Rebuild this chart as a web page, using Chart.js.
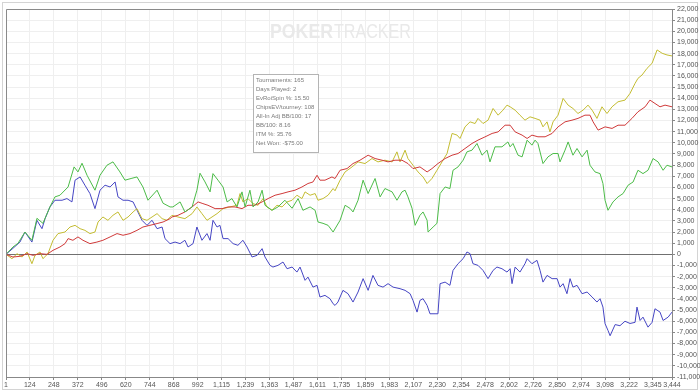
<!DOCTYPE html>
<html lang="en">
<head>
<meta charset="UTF-8" />
<title>PokerTracker graph</title>
<script src="https://cdn.jsdelivr.net/npm/chart.js"></script>
<style>
  html, body { margin: 0; padding: 0; background: #fff; }
  #wrap { width: 700px; height: 392px; }
</style>
</head>
<body>
<div id="wrap"><canvas id="graph" width="700" height="392"></canvas></div>
<script>
  // hand numbers shown under the x axis
  const xTicks = [1, 124, 248, 372, 496, 620, 744, 868, 992, 1115, 1239, 1363, 1487, 1611, 1735,
    1859, 1983, 2107, 2230, 2354, 2478, 2602, 2726, 2850, 2974, 3098, 3222, 3345, 3444];

  // [hand, value]
  const greenPoints = [[1,0],[37,660],[63,990],[99,2000],[135,1260],[161,3230],[192,2780],[228,4250],[254,5150],[280,5300],[322,6040],[353,7840],[373,7390],[394,8170],[420,7090],[461,5750],[487,7090],[523,7990],[554,8290],[590,7390],[616,6650],[652,6820],[678,6940],[709,6040],[735,4850],[782,5750],[813,4580],[849,4250],[864,4250],[901,4700],[926,3800],[963,4250],[988,5750],[1004,7270],[1030,6490],[1056,5600],[1071,7240],[1097,6650],[1123,6040],[1144,4700],[1169,5000],[1195,4250],[1221,5600],[1237,4250],[1262,5750],[1278,4250],[1304,4700],[1325,5750],[1340,4400],[1376,3950],[1407,4250],[1443,4850],[1480,4130],[1511,5000],[1536,3950],[1573,4250],[1599,3950],[1614,2900],[1640,2780],[1666,2600],[1692,2000],[1728,3050],[1754,4400],[1779,4130],[1795,3800],[1821,4850],[1847,6650],[1873,5450],[1909,6800],[1935,5150],[1960,5900],[1997,5600],[2022,4850],[2048,5600],[2064,5750],[2079,5150],[2100,4130],[2116,2600],[2141,3500],[2157,3800],[2178,3050],[2183,2000],[2209,2450],[2229,2780],[2245,5450],[2271,6040],[2296,5900],[2312,7540],[2338,7840],[2364,8440],[2384,9190],[2410,9340],[2436,9940],[2462,8890],[2488,9340],[2503,8290],[2529,9640],[2565,9640],[2596,10080],[2607,9640],[2622,9940],[2648,8890],[2669,8740],[2695,10240],[2720,9790],[2736,10240],[2751,9940],[2777,8140],[2803,8740],[2829,9040],[2855,9040],[2865,8290],[2891,9340],[2907,10080],[2932,8890],[2953,9490],[2979,8740],[3005,9340],[3020,7990],[3046,7390],[3072,7240],[3087,6350],[3098,4850],[3113,3950],[3139,4700],[3165,5150],[3191,5450],[3217,6200],[3243,6490],[3268,7540],[3294,7240],[3320,7540],[3346,8590],[3372,8290],[3398,7540],[3418,7990],[3444,7840]];

  const bluePoints = [[1,0],[37,540],[73,1100],[99,2000],[135,1100],[161,3050],[187,2300],[203,3200],[228,4250],[254,4850],[291,4850],[316,5000],[342,4700],[358,6650],[384,6940],[409,6200],[435,5450],[461,4100],[487,5750],[513,6200],[539,6040],[565,6490],[580,5150],[606,4850],[632,4850],[658,4700],[683,3800],[704,3050],[730,2600],[756,3050],[782,2300],[808,2450],[823,1410],[849,960],[875,1100],[901,960],[926,1260],[942,660],[968,960],[988,2450],[1014,1260],[1040,1860],[1056,1260],[1071,3050],[1092,2450],[1107,2600],[1123,1410],[1149,1410],[1175,960],[1200,810],[1226,1260],[1247,660],[1273,-240],[1299,-90],[1325,510],[1340,-240],[1366,-990],[1381,-1140],[1407,-990],[1433,-690],[1454,-1290],[1480,-1140],[1505,-1590],[1521,-1140],[1547,-2330],[1562,-2040],[1588,-2940],[1609,-2780],[1624,-3830],[1650,-3680],[1676,-3980],[1692,-4430],[1702,-4580],[1717,-4280],[1743,-3230],[1769,-3530],[1795,-4280],[1821,-3380],[1847,-2180],[1873,-3230],[1898,-1890],[1924,-2780],[1950,-2940],[1976,-2630],[2002,-2940],[2038,-3080],[2064,-3230],[2090,-3530],[2105,-4130],[2126,-5180],[2141,-4130],[2157,-3980],[2178,-4580],[2193,-5330],[2219,-5330],[2234,-5330],[2245,-2630],[2271,-2490],[2296,-2780],[2312,-1440],[2338,-840],[2364,-390],[2384,210],[2400,60],[2415,-840],[2441,-990],[2467,-1440],[2493,-2180],[2519,-1440],[2539,-1140],[2565,-1290],[2591,-1590],[2607,-1290],[2617,-2630],[2633,-1140],[2658,-1590],[2684,-840],[2695,-390],[2720,-840],[2746,-540],[2762,-1440],[2777,-2490],[2798,-1890],[2824,-2180],[2850,-2180],[2865,-2940],[2881,-2630],[2901,-3530],[2917,-2180],[2932,-2940],[2953,-2780],[2979,-3530],[3005,-3380],[3031,-3830],[3056,-4280],[3072,-3980],[3087,-4730],[3098,-6220],[3113,-6820],[3124,-7300],[3150,-6300],[3175,-6400],[3201,-6000],[3227,-6200],[3253,-6100],[3263,-4730],[3279,-5930],[3294,-5630],[3320,-6530],[3341,-6100],[3356,-4880],[3382,-5180],[3398,-5930],[3424,-5630],[3444,-5180]];

  const redPoints = [[1,0],[37,-240],[73,-180],[110,60],[141,-90],[177,60],[213,0],[244,360],[280,660],[306,960],[322,1410],[347,1260],[373,1560],[399,1260],[435,960],[471,1100],[502,1260],[539,1560],[575,1860],[606,1710],[642,1860],[678,2150],[709,2450],[745,2600],[782,2760],[813,2900],[849,3200],[859,3350],[890,3500],[926,3800],[963,4250],[994,4700],[1019,4550],[1045,4400],[1082,4100],[1118,4100],[1149,4250],[1185,4250],[1221,4100],[1252,4400],[1288,4400],[1325,4700],[1356,5000],[1392,5300],[1428,5450],[1459,5600],[1495,5750],[1531,6040],[1562,6350],[1588,6490],[1609,7090],[1624,6650],[1650,6650],[1686,6940],[1702,6800],[1728,7540],[1764,7690],[1795,8140],[1831,8440],[1873,8890],[1909,8590],[1945,8440],[1976,8290],[2012,8440],[2048,8440],[2079,8140],[2105,7690],[2141,7840],[2178,7390],[2203,7690],[2234,8140],[2271,8590],[2307,8890],[2338,9040],[2374,9490],[2410,9940],[2441,10240],[2477,10530],[2514,10840],[2545,10980],[2581,11580],[2607,11580],[2633,10980],[2669,10690],[2695,10390],[2720,10690],[2751,10540],[2788,10540],[2824,10840],[2855,11430],[2891,11880],[2927,12030],[2958,12190],[2994,12480],[3020,12480],[3036,11880],[3062,11140],[3098,11430],[3134,11290],[3165,11580],[3201,11580],[3237,12190],[3268,12780],[3305,13230],[3330,13830],[3356,13530],[3382,13230],[3408,13380],[3444,13230]];

  const yellowPoints = [[1,0],[32,-390],[58,60],[84,-240],[110,210],[135,-840],[151,-90],[177,210],[192,-390],[218,60],[244,1260],[270,1860],[306,2000],[332,2450],[358,2600],[384,2300],[409,2150],[435,1860],[461,2000],[477,2900],[502,3350],[528,3050],[554,3500],[580,3800],[606,3050],[632,3350],[658,3800],[678,4100],[704,3200],[730,3050],[756,3350],[782,3650],[808,3200],[833,3050],[859,3500],[890,3350],[926,3200],[963,3650],[988,4250],[1014,3650],[1040,3050],[1066,3350],[1092,3650],[1123,4100],[1159,4250],[1195,4400],[1211,5450],[1226,4700],[1252,5000],[1278,4550],[1304,4400],[1330,5000],[1350,4250],[1376,3950],[1402,4400],[1428,4250],[1454,4700],[1480,4850],[1505,5300],[1531,5000],[1547,5600],[1573,5300],[1599,5450],[1614,4850],[1640,5000],[1666,5300],[1692,5900],[1702,5700],[1728,6650],[1754,7390],[1790,7840],[1821,8290],[1857,8140],[1893,8590],[1924,8290],[1960,8440],[1997,8290],[2022,9190],[2038,8290],[2064,9340],[2079,8590],[2105,7990],[2131,7390],[2157,6940],[2178,6350],[2203,6800],[2229,7540],[2255,8290],[2281,9040],[2307,10840],[2333,10690],[2348,10390],[2374,11430],[2400,11880],[2426,11730],[2441,12190],[2467,11730],[2493,12030],[2519,13080],[2545,12480],[2570,12930],[2591,13380],[2607,13230],[2633,12930],[2658,12480],[2684,12030],[2710,12330],[2736,12190],[2762,12030],[2777,11430],[2798,11880],[2813,10980],[2829,11880],[2855,12480],[2881,13980],[2907,13380],[2932,13080],[2958,12630],[2984,12930],[3010,13380],[3031,12930],[3056,12190],[3082,13230],[3108,12630],[3134,13230],[3165,13680],[3201,13830],[3227,14430],[3253,15330],[3268,15780],[3289,16080],[3315,16680],[3341,17130],[3367,18330],[3393,18030],[3418,17880],[3444,17790]];

  // stats box text
  const statLines = ['Tournaments: 165', 'Days Played: 2', 'EvRoiSpin %: 15.50', 'ChipsEV/tourney: 108',
    'All-In Adj BB/100: 17', 'BB/100: 8.16', 'ITM %: 35.76', 'Net Won: -$75.00'];

  const FONT = 'Liberation Sans, Arial, sans-serif';
  const toXY = pts => pts.map(p => ({ x: p[0], y: p[1] }));
  const line = (pts, color) => ({
    data: toXY(pts), borderColor: color, borderWidth: 1, pointRadius: 0, tension: 0, fill: false
  });

  // frame, watermark and stats box
  const decorations = {
    id: 'decorations',
    beforeDraw(chart) {
      const ctx = chart.ctx;
      ctx.save();
      ctx.fillStyle = '#fff';
      ctx.fillRect(0, 0, chart.width, chart.height);
      ctx.strokeStyle = '#d4d4d4';
      ctx.strokeRect(2.5, 2.5, chart.width - 5, chart.height - 5);
      ctx.restore();
    },
    beforeDatasetsDraw(chart) {
      const ctx = chart.ctx;
      ctx.save();
      ctx.fillStyle = '#e9e9e9';
      ctx.textBaseline = 'alphabetic';
      ctx.font = 'bold 20px ' + FONT;
      ctx.fillText('POKER', 270, 38, 63);
      ctx.font = '20px ' + FONT;
      ctx.fillText('TRACKER', 334, 38, 77);
      ctx.restore();
    },
    afterDatasetsDraw(chart) {
      const ctx = chart.ctx;
      const a = chart.chartArea;
      ctx.save();
      // top / left edge of the plot frame
      ctx.strokeStyle = '#8a8a8a';
      ctx.beginPath();
      ctx.moveTo(a.left + 0.5, a.bottom);
      ctx.lineTo(a.left + 0.5, a.top + 0.5);
      ctx.lineTo(a.right, a.top + 0.5);
      ctx.stroke();
      // stats box
      ctx.fillStyle = '#fff';
      ctx.fillRect(253, 74, 65, 78);
      ctx.strokeStyle = '#b4b4b4';
      ctx.strokeRect(253.5, 74.5, 65, 78);
      ctx.fillStyle = '#7a7a7a';
      ctx.font = '6px ' + FONT;
      ctx.textBaseline = 'middle';
      statLines.forEach((t, i) => ctx.fillText(t, 256, 80 + i * 9));
      ctx.restore();
    }
  };

  new Chart(document.getElementById('graph'), {
    type: 'line',
    data: {
      datasets: [
        line(greenPoints, '#4cbc48'),
        line(redPoints, '#d03a3a'),
        line(yellowPoints, '#c4bd32'),
        line(bluePoints, '#4646c4')
      ]
    },
    options: {
      responsive: false,
      animation: false,
      layout: { padding: { left: 6, top: 9, right: 0, bottom: 0 } },
      plugins: { legend: { display: false }, tooltip: { enabled: false } },
      scales: {
        x: {
          type: 'linear',
          min: 1,
          max: 3444,
          afterBuildTicks: s => { s.ticks = xTicks.map(v => ({ value: v })); },
          afterFit: s => { s.height = 15; },
          ticks: {
            autoSkip: false, maxRotation: 0, padding: 1,
            font: { size: 7, family: FONT }, color: '#555',
            callback: v => v.toLocaleString('en-US')
          },
          grid: { color: '#efefef', tickColor: '#888', tickLength: 3 },
          border: { color: '#888' }
        },
        y: {
          position: 'right',
          min: -11000,
          max: 22000,
          afterFit: s => { s.width = 28; },
          ticks: {
            stepSize: 1000, autoSkip: false, padding: 2,
            font: { size: 7, family: FONT }, color: '#555',
            callback: v => v.toLocaleString('en-US')
          },
          grid: {
            color: c => (c.tick && c.tick.value === 0) ? '#707070' : '#efefef',
            tickColor: '#888', tickLength: 3
          },
          border: { color: '#888' }
        }
      }
    },
    plugins: [decorations]
  });
</script>
</body>
</html>
